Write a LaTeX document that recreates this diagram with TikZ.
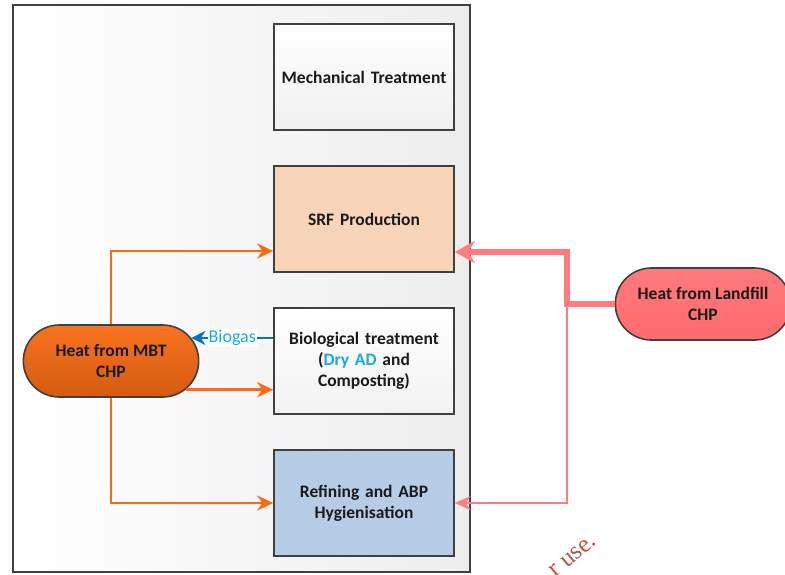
\documentclass[tikz,border=0pt]{standalone}
\usepackage{fontspec}
\setmainfont{Carlito}
\newfontfamily\wmfont{Liberation Serif}
\usetikzlibrary{arrows.meta,shapes.misc,patterns,calc}

\definecolor{frameline}{HTML}{404040}
\definecolor{heatorange}{HTML}{F96B14}
\definecolor{heatpink}{HTML}{FF7C80}
\definecolor{lfpink}{HTML}{FF6B6E}
\definecolor{biogasblue}{HTML}{0A6FC2}
\definecolor{biogastext}{HTML}{1AA8E8}
\definecolor{srffill}{HTML}{F8D5B8}
\definecolor{reffill}{HTML}{BCD3EA}
\definecolor{refhatch}{HTML}{A8C3DF}
\definecolor{txt}{HTML}{1A1A1A}
\definecolor{wmred}{HTML}{C0504D}

\tikzset{
  stage/.style={draw=frameline, line width=1.6pt, minimum width=180pt,
    minimum height=106pt, align=center, text width=172pt,
    font=\bfseries\fontsize{17.5}{21}\selectfont, text=txt},
  source/.style={rounded rectangle, draw=frameline, line width=1.6pt,
    minimum width=182pt, minimum height=72pt, align=center,
    font=\bfseries\fontsize{17.5}{21}\selectfont, text=txt},
  orangeflow/.style={draw=heatorange, line width=2.6pt,
    -{Stealth[length=16pt,width=15pt]}},
  pinkthick/.style={draw=heatpink, line width=5.5pt,
    -{Stealth[length=20pt,width=22pt]}},
  pinkthin/.style={draw=heatpink, line width=1.8pt,
    -{Stealth[length=16pt,width=14pt]}},
  gasflow/.style={draw=biogasblue, line width=2.6pt,
    -{Stealth[length=14pt,width=14pt]}}
}

\begin{document}
\begin{tikzpicture}[x=1pt,y=-1pt]
\useasboundingbox (0,0) rectangle (785,574);
\clip (0,0) rectangle (785,574);

% plant boundary
\shade[left color=white, right color=black!7] (13,5) rectangle (470,572);
\draw[frameline, line width=1.6pt] (13,5) rectangle (470,572);

% treatment stages
\node[stage, top color=white, bottom color=black!6] (mech) at (364,77) {Mechanical Treatment};
\node[stage, fill=srffill] (srf) at (364,219) {SRF Production};
\node[stage, top color=white, bottom color=black!5] (bio) at (364,361)
  {Biological treatment\\(\textcolor{biogastext}{Dry AD} and\\Composting)};
\fill[reffill] (274,450) rectangle (454,556);
\fill[pattern=north east lines, pattern color=refhatch] (274,450) rectangle (454,556);
\node[stage] (ref) at (364,503) {Refining and ABP\\Hygienisation};

% heat sources
\node[source, top color=heatorange!95!white, bottom color=heatorange!85!black] (mbt) at (111,361) {Heat from MBT\\CHP};
\node[source, top color=lfpink!90!white, bottom color=lfpink] (lf) at (703,304) {Heat from Landfill\\CHP};

% MBT heat distribution
\draw[orangeflow] (mbt.north) |- ([yshift=-32pt]srf.west);
\draw[orangeflow] (mbt.-21) -- (mbt.-21 -| bio.west);
\draw[orangeflow] (mbt.south) |- (ref.west);

% biogas return
\draw[gasflow] (bio.west |- mbt.16) -- node[pos=0.5, fill=white, inner sep=1pt,
  text=biogastext, font=\fontsize{18}{21}\selectfont] {Biogas} (mbt.16);

% landfill heat distribution
\coordinate (split) at (567,304);
\draw[pinkthin] (split) |- (ref.east);
\draw[pinkthick, line join=miter] (lf.west) -- (split) |- ([yshift=-33pt]srf.east);

% watermark fragment
\node[text=wmred, rotate=40, inner sep=0pt, font=\wmfont\fontsize{25}{28}\selectfont] (wm) at (573,556) {r\ use.};
\end{tikzpicture}
\end{document}
